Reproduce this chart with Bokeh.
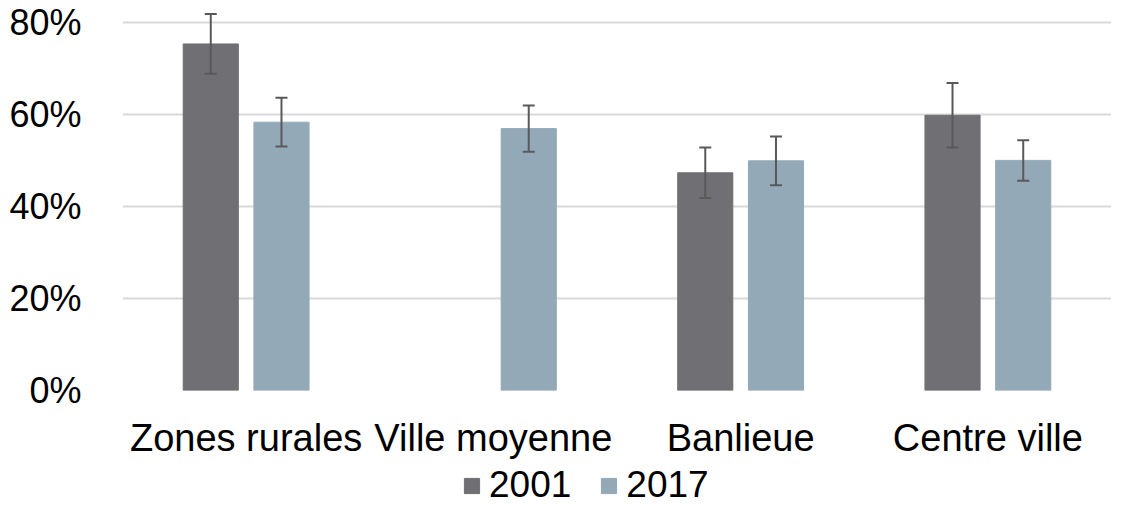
from bokeh.plotting import figure
from bokeh.layouts import column
from bokeh.models import (ColumnDataSource, FactorRange, Range1d, Whisker, TeeHead,
                          Legend, LegendItem, FixedTicker, NumeralTickFormatter)
from bokeh.transform import dodge
from bokeh.embed import file_html
from bokeh.resources import INLINE

categories = ["Zones rurales", "Ville moyenne", "Banlieue", "Centre ville"]
years = ["2001", "2017"]
values_2001 = [0.753, None, 0.473, 0.598]
err_2001 = [0.065, None, 0.055, 0.070]
values_2017 = [0.583, 0.569, 0.499, 0.500]
err_2017 = [0.053, 0.050, 0.053, 0.044]
y_ticks = [0.0, 0.2, 0.4, 0.6, 0.8]

colors = {"2001": "#707074", "2017": "#93a9b8"}
offsets = {"2001": -0.143, "2017": 0.143}


def make_source(vals, errs):
    cats, tops, ups, lows = [], [], [], []
    for c, v, e in zip(categories, vals, errs):
        if v is None:
            continue
        cats.append(c)
        tops.append(v)
        ups.append(v + e)
        lows.append(v - e)
    return ColumnDataSource(dict(cat=cats, top=tops, upper=ups, lower=lows))


sources = {"2001": make_source(values_2001, err_2001),
           "2017": make_source(values_2017, err_2017)}

p = figure(width=1111, height=461, output_backend="svg", toolbar_location=None,
           x_range=FactorRange(factors=categories, range_padding=0),
           y_range=Range1d(0, 0.83),
           min_border_left=122, min_border_right=0, min_border_top=8,
           min_border_bottom=71)
p.outline_line_color = None
p.background_fill_color = "white"
p.border_fill_color = "white"

for yr in years:
    src = sources[yr]
    p.vbar(x=dodge("cat", offsets[yr], range=p.x_range), top="top", bottom=0,
           width=0.223, source=src, fill_color=colors[yr], line_color=colors[yr])
    w = Whisker(base=dodge("cat", offsets[yr], range=p.x_range), upper="upper",
                lower="lower", source=src, line_color="#595959", line_width=2,
                level="overlay",
                upper_head=TeeHead(size=12, line_color="#595959", line_width=2),
                lower_head=TeeHead(size=12, line_color="#595959", line_width=2))
    p.add_layout(w)

# axes
p.yaxis.ticker = FixedTicker(ticks=y_ticks)
p.yaxis.formatter = NumeralTickFormatter(format="0%")
p.yaxis.axis_line_color = None
p.yaxis.major_tick_line_color = None
p.yaxis.minor_tick_line_color = None
p.yaxis.major_label_standoff = 35
p.yaxis.major_label_text_font = "Liberation Sans"
p.yaxis.major_label_text_font_size = "36px"
p.yaxis.major_label_text_color = "black"

p.xaxis.axis_line_color = None
p.xaxis.major_tick_line_color = None
p.xaxis.minor_tick_line_color = None
p.xaxis.major_label_standoff = 20
p.xaxis.major_label_text_font = "Liberation Sans"
p.xaxis.major_label_text_font_size = "38px"
p.xaxis.major_label_text_color = "black"

p.xgrid.grid_line_color = None
p.ygrid.grid_line_color = "#d9d9d9"
p.ygrid.grid_line_width = 2
p.ygrid.ticker = FixedTicker(ticks=y_ticks)

# legend strip below the chart (proxy glyphs sit outside the visible range)
lg = figure(width=1111, height=45, output_backend="svg", toolbar_location=None,
            x_range=Range1d(0, 1), y_range=Range1d(0, 1),
            x_axis_type=None, y_axis_type=None,
            min_border_left=0, min_border_right=0,
            min_border_top=0, min_border_bottom=0)
lg.outline_line_color = None
lg.xgrid.visible = False
lg.ygrid.visible = False
proxies = {}
for yr in years:
    proxies[yr] = lg.vbar(x=[-10], top=[0], width=0.1, fill_color=colors[yr],
                          line_color=colors[yr])

legend = Legend(items=[LegendItem(label=yr, renderers=[proxies[yr]]) for yr in years],
                orientation="horizontal", location=(340, 0),
                padding=0, margin=0, spacing=28, label_standoff=8,
                glyph_width=19, glyph_height=19,
                label_text_font="Liberation Sans", label_text_font_size="37px",
                label_text_color="black", border_line_color=None,
                background_fill_alpha=0)
lg.add_layout(legend, "center")

layout = column(p, lg, spacing=0)
open("out.html", "w").write(file_html(layout, INLINE))
